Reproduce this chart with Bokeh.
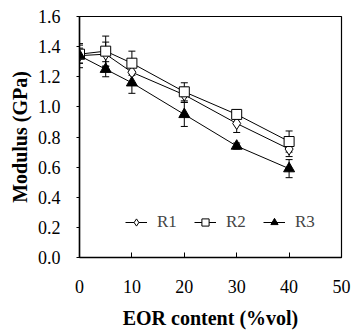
from bokeh.plotting import figure
from bokeh.models import ColumnDataSource, Whisker, TeeHead, Legend, LegendItem, FixedTicker, NumeralTickFormatter
from bokeh.embed import file_html
from bokeh.resources import INLINE

x = [0, 5, 10, 20, 30, 40]
r1 = [1.34, 1.35, 1.23, 1.08, 0.89, 0.72]
r1_err = [0.08, 0.08, 0.07, 0.05, 0.06, 0.05]
r2 = [1.35, 1.37, 1.29, 1.10, 0.95, 0.77]
r2_err = [0.06, 0.10, 0.08, 0.06, 0.03, 0.07]
r3 = [1.34, 1.25, 1.16, 0.95, 0.74, 0.59]
r3_err = [0.05, 0.05, 0.07, 0.08, 0.02, 0.06]
x_ticks = [0, 10, 20, 30, 40, 50]
y_ticks = [0.0, 0.2, 0.4, 0.6, 0.8, 1.0, 1.2, 1.4, 1.6]

FONT = "Liberation Serif"

p = figure(width=351, height=332, x_range=(0, 50), y_range=(0, 1.6),
           output_backend="svg", toolbar_location=None,
           min_border_left=79, min_border_right=10, min_border_top=16, min_border_bottom=75)
p.grid.visible = False
p.outline_line_color = "black"
p.outline_line_width = 1.2
p.background_fill_color = "white"
p.border_fill_color = "white"

p.xaxis.ticker = FixedTicker(ticks=x_ticks)
p.yaxis.ticker = FixedTicker(ticks=y_ticks)
p.yaxis.formatter = NumeralTickFormatter(format="0.0")
p.xaxis.minor_tick_line_color = None
p.yaxis.minor_tick_line_color = None
p.xaxis.major_tick_in = 5
p.xaxis.major_tick_out = 0
p.yaxis.major_tick_in = 0
p.yaxis.major_tick_out = 3
for ax in (p.xaxis[0], p.yaxis[0]):
    ax.axis_line_width = 1.5
    ax.axis_line_color = "black"
    ax.major_tick_line_color = "black"
    ax.major_label_text_font = FONT
    ax.major_label_text_font_size = "18px"
    ax.major_label_text_color = "black"
    ax.axis_label_text_font = FONT
    ax.axis_label_text_font_size = "20px"
    ax.axis_label_text_font_style = "bold"
    ax.axis_label_text_color = "black"
p.xaxis.major_label_standoff = 22
p.yaxis.major_label_standoff = 16
p.xaxis.axis_label = "EOR content (%vol)"
p.yaxis.axis_label = "Modulus (GPa)"
p.xaxis.axis_label_standoff = 11
p.yaxis.axis_label_standoff = 4

items = []
series = [("R1", r1, r1_err, "diamond", "white", 12),
          ("R2", r2, r2_err, "square", "white", 10),
          ("R3", r3, r3_err, "triangle", "black", 11)]
for name, ys, errs, marker, fill, size in series:
    src = ColumnDataSource(dict(x=x, y=ys,
                                lo=[a - b for a, b in zip(ys, errs)],
                                hi=[a + b for a, b in zip(ys, errs)]))
    ln = p.line("x", "y", source=src, line_color="black", line_width=1)
    w = Whisker(base="x", upper="hi", lower="lo", source=src, dimension="height",
                line_color="black", line_width=1,
                upper_head=TeeHead(size=7, line_color="black", line_width=1),
                lower_head=TeeHead(size=7, line_color="black", line_width=1))
    p.add_layout(w)
    sc = p.scatter("x", "y", source=src, marker=marker, size=size,
                   fill_color=fill, line_color="black", line_width=1)
    items.append(LegendItem(label=name, renderers=[ln, sc]))

legend = Legend(items=items, orientation="horizontal", location=(46, 25),
                border_line_color=None, background_fill_alpha=0,
                label_text_font=FONT, label_text_font_size="17px",
                glyph_width=22, glyph_height=18, label_standoff=10,
                spacing=17, padding=2, margin=0)
p.add_layout(legend, "center")

open("out.html", "w").write(file_html(p, INLINE))
